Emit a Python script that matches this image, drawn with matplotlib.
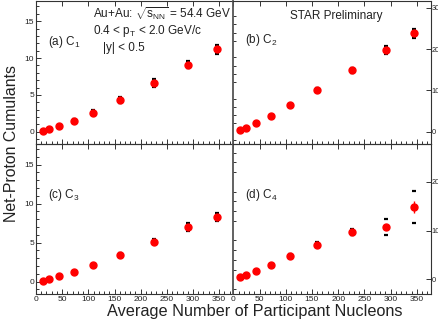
import matplotlib
matplotlib.use("Agg")
import matplotlib.pyplot as plt
from matplotlib.ticker import MultipleLocator
import numpy as np

plt.rcParams['font.family'] = ['Liberation Sans', 'DejaVu Sans']
plt.rcParams['mathtext.fontset'] = 'custom'
plt.rcParams['mathtext.rm'] = 'Liberation Sans'
plt.rcParams['mathtext.it'] = 'Liberation Sans'
plt.rcParams['mathtext.bf'] = 'Liberation Sans:bold'

# average number of participants (9 centrality bins, peripheral -> central)
npart = [13, 25, 44, 72, 109, 160, 226, 291, 345]

# cumulants
c1 = [0.14, 0.36, 0.77, 1.49, 2.57, 4.33, 6.62, 9.1, 11.2]
c2 = [0.41, 0.97, 2.17, 3.86, 6.43, 10.05, 14.87, 19.77, 23.87]
c3 = [0.13, 0.35, 0.69, 1.24, 2.10, 3.38, 5.13, 7.01, 8.29]
c4 = [0.41, 0.82, 1.70, 2.87, 4.72, 7.10, 9.77, 10.78, 14.80]

# statistical errors
c1_stat = [0.01, 0.01, 0.02, 0.02, 0.03, 0.04, 0.05, 0.06, 0.08]
c2_stat = [0.02, 0.03, 0.04, 0.05, 0.07, 0.09, 0.12, 0.15, 0.2]
c3_stat = [0.02, 0.03, 0.04, 0.05, 0.07, 0.09, 0.12, 0.2, 0.3]
c4_stat = [0.05, 0.07, 0.1, 0.15, 0.2, 0.3, 0.4, 0.6, 1.2]

# systematic errors
c1_sys = [0.05, 0.08, 0.12, 0.18, 0.35, 0.42, 0.6, 0.45, 0.58]
c2_sys = [0.05, 0.1, 0.15, 0.25, 0.35, 0.5, 0.6, 0.96, 1.08]
c3_sys = [0.03, 0.05, 0.08, 0.12, 0.18, 0.25, 0.32, 0.49, 0.54]
c4_sys = [0.1, 0.15, 0.2, 0.3, 0.4, 0.5, 0.62, 1.7, 3.3]

labels = ['(a) C$_1$', '(b) C$_2$', '(c) C$_3$', '(d) C$_4$']

W, H = 439, 327
fig = plt.figure(figsize=(W / 100, H / 100), dpi=100)

L = 36 / W
M = 233.3 / W
R = 431 / W
ytop = 1 - 0.6 / H
ymid = 1 - 144 / H
ybot = 1 - 294.3 / H

axa = fig.add_axes([L, ymid, M - L, ytop - ymid])
axb = fig.add_axes([M, ymid, R - M, ytop - ymid])
axc = fig.add_axes([L, ybot, M - L, ymid - ybot])
axd = fig.add_axes([M, ybot, R - M, ymid - ybot])

panels = [
    (axa, c1, c1_stat, c1_sys, (-1.66, 17.8), 5, 1, 'left', False),
    (axb, c2, c2_stat, c2_sys, (-2.97, 31.76), 10, 2, 'right', False),
    (axc, c3, c3_stat, c3_sys, (-1.62, 17.65), 5, 1, 'left', True),
    (axd, c4, c4_stat, c4_sys, (-3.08, 27.8), 10, 2, 'right', True),
]

txtc = '#222222'
for i, (ax, c, st, sy, ylim, maj, mnr, side, bottom) in enumerate(panels):
    # systematic errors: caps only
    eb = ax.errorbar(npart, c, yerr=sy, fmt='none', ecolor='black',
                     capsize=1.6, capthick=1.6, zorder=2)
    for lc in eb[2]:
        lc.set_visible(False)
    ax.errorbar(npart, c, yerr=st, fmt='o', color='red', ms=5,
                elinewidth=1, capsize=0, zorder=3)
    ax.set_xlim(0, 377)
    ax.set_ylim(*ylim)
    ax.xaxis.set_major_locator(MultipleLocator(50))
    ax.xaxis.set_minor_locator(MultipleLocator(10))
    ax.yaxis.set_major_locator(MultipleLocator(maj))
    ax.yaxis.set_minor_locator(MultipleLocator(mnr))
    ax.tick_params(which='both', direction='in', colors='#333333',
                   labelcolor=txtc, labelsize=6, pad=1.5, width=0.7)
    ax.tick_params(which='major', length=3.5)
    ax.tick_params(which='minor', length=2)
    ax.tick_params(axis='x', top=True, bottom=True, labelbottom=bottom)
    if side == 'left':
        ax.tick_params(axis='y', left=True, right=False,
                       labelleft=True, labelright=False)
        ax.spines['right'].set_visible(False)
    else:
        ax.tick_params(axis='y', left=False, right=True,
                       labelleft=False, labelright=True,
                       labelsize=5.4, pad=0.6)
        ax.spines['left'].set_color('#555555')
        ax.spines['left'].set_linewidth(1.3)
    for s in ['top', 'bottom', 'left', 'right']:
        if not (side == 'right' and s == 'left'):
            ax.spines[s].set_color('#333333')
            ax.spines[s].set_linewidth(0.8)
    ax.patch.set_alpha(0)

# panel labels
fig.text(47.7 / W, 1 - 41.7 / H, labels[0], fontsize=8.5, color=txtc, va='center')
fig.text(245 / W, 1 - 40 / H, labels[1], fontsize=8.5, color=txtc, va='center')
fig.text(47.7 / W, 1 - 195 / H, labels[2], fontsize=8.5, color=txtc, va='center')
fig.text(245 / W, 1 - 195 / H, labels[3], fontsize=8.5, color=txtc, va='center')

fig.text(92.7 / W, 1 - 14 / H, r'Au+Au: $\sqrt{s_{\mathrm{NN}}}$ = 54.4 GeV',
         fontsize=8.5, color=txtc, va='center')
fig.text(92.7 / W, 1 - 30.7 / H, r'0.4 < p$_{\mathrm{T}}$ < 2.0 GeV/c',
         fontsize=8.5, color=txtc, va='center')
fig.text(103 / W, 1 - 48 / H, '|y| < 0.5', fontsize=8.5, color=txtc, va='center')
fig.text(290 / W, 1 - 16 / H, 'STAR Preliminary', fontsize=8.5, color=txtc,
         va='center')

fig.text(12 / W, 1 - 143.5 / H, 'Net-Proton Cumulants', fontsize=11.4,
         color=txtc, rotation=90, ha='center', va='center')
fig.text(255 / W, 1 - 311.7 / H, 'Average Number of Participant Nucleons',
         fontsize=11.7, color=txtc, ha='center', va='center')

fig.savefig('out.png', dpi=100)
